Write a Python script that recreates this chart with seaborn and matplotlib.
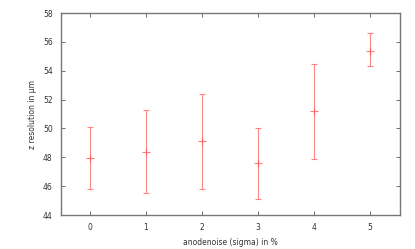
import matplotlib
matplotlib.use("Agg")
import matplotlib.pyplot as plt
import seaborn as sns
import numpy as np

noise = [0, 1, 2, 3, 4, 5]
resolution = [47.95, 48.4, 49.1, 47.6, 51.2, 55.4]
upper = [50.1, 51.3, 52.4, 50.0, 54.5, 56.6]
lower = [45.8, 45.5, 45.8, 45.1, 47.9, 54.3]

sns.set_theme(style="white")
plt.rcParams['font.family'] = ['DejaVu Sans']

fig = plt.figure(figsize=(4.15, 2.49), dpi=100)
ax = fig.add_axes([61/415, 1 - 215/249, (400-61)/415, (215-13)/249])

res = np.array(resolution)
yerr = [res - np.array(lower), np.array(upper) - res]
col = (1.0, 0.35, 0.35)
ax.errorbar(noise, resolution, yerr=yerr, fmt='none', ecolor=col, alpha=0.7,
            elinewidth=0.8, capsize=2.5, capthick=0.8)
sns.scatterplot(x=noise, y=resolution, marker='+', s=40, color=col, linewidth=0.8,
                alpha=0.8, ax=ax, legend=False)

ax.set_xlim(-0.52, 5.54)
ax.set_ylim(44, 58)
ax.set_xticks(noise)
ax.set_yticks(np.arange(44, 59, 2))
ax.tick_params(direction='in', length=3, width=0.6, colors='#555555',
               labelsize=5.5, labelcolor='#333333', top=True, right=True,
               left=True, bottom=True, pad=6)
for s in ax.spines.values():
    s.set_color('#777777')
    s.set_linewidth(1.0)
ax.set_xlabel('anodenoise (sigma) in %', fontsize=5.5, color='#333333', labelpad=4)
ax.set_ylabel('z resolution in µm', fontsize=5.5, color='#333333', labelpad=4)
fig.savefig('out.png', dpi=100)
